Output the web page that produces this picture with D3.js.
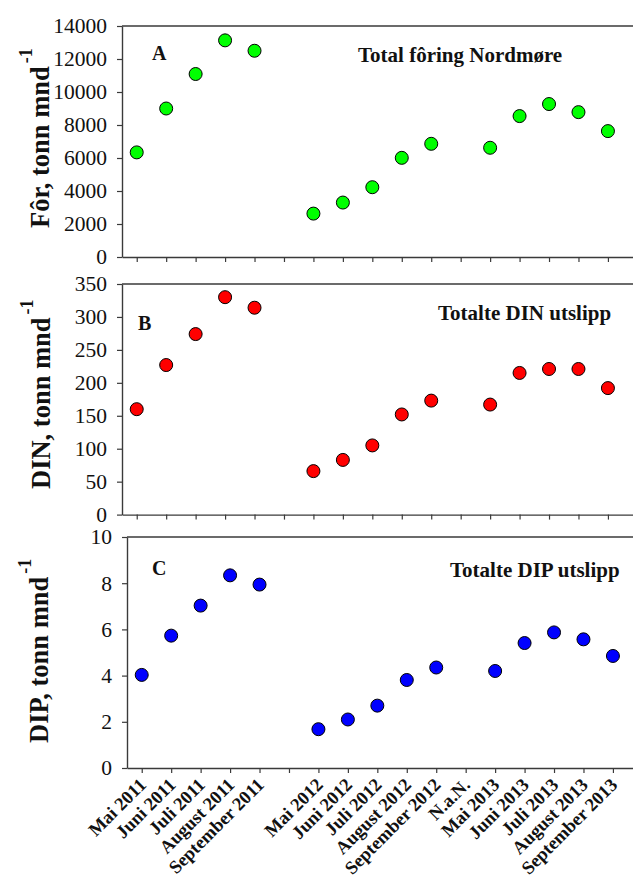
<!DOCTYPE html>
<html>
<head>
<meta charset="utf-8">
<script src="https://cdn.jsdelivr.net/npm/d3@7"></script>
<style>
  html, body { margin: 0; padding: 0; background: #fff; }
  svg { display: block; }
  svg text { font-family: "Liberation Serif", "Times New Roman", serif; }
</style>
</head>
<body>
<svg id="chart" width="633" height="877"></svg>
<script>
// ---------- data ----------
const xLabels = ["Mai 2011", "Juni 2011", "Juli 2011", "August 2011", "September 2011", "",
  "Mai 2012", "Juni 2012", "Juli 2012", "August 2012", "September 2012", "N.a.N.",
  "Mai 2013", "Juni 2013", "Juli 2013", "August 2013", "September 2013"];
const forValues = [6340, 9000, 11090, 13130, 12500, null, 2630, 3300, 4230, 6010, 6860, null, 6620, 8540, 9270, 8780, 7630];
const dinValues = [160, 227, 274, 330, 314, null, 66, 83, 105, 152, 173, null, 167, 215, 221, 221, 192];
const dipValues = [4.03, 5.73, 7.03, 8.34, 7.94, null, 1.68, 2.10, 2.70, 3.81, 4.35, null, 4.20, 5.41, 5.87, 5.57, 4.85];
const forTicks = [0, 2000, 4000, 6000, 8000, 10000, 12000, 14000];
const dinTicks = [0, 50, 100, 150, 200, 250, 300, 350];
const dipTicks = [0, 2, 4, 6, 8, 10];
const panelLetters = ["A", "B", "C"];
const panelTitles = ["Total fôring Nordmøre", "Totalte DIN utslipp", "Totalte DIP utslipp"];
const yTitles = ["Fôr, tonn mnd", "DIN, tonn mnd", "DIP, tonn mnd"];

// ---------- layout ----------
const svg = d3.select("#chart");
const serif = '"Liberation Serif", "Times New Roman", serif';
const step = 29.45;
const panels = [
  { values: forValues, ticks: forTicks, yMax: 14000, left: 122, top: 26, bottom: 257, color: "#00ff00",
    letterPos: [152, 60], titlePos: [358, 62], yTitlePos: [49, 228], showLabels: false },
  { values: dinValues, ticks: dinTicks, yMax: 350, left: 122, top: 284, bottom: 514.6, color: "#ff0000",
    letterPos: [138, 330], titlePos: [438, 320], yTitlePos: [50, 489], showLabels: false },
  { values: dipValues, ticks: dipTicks, yMax: 10, left: 127, top: 537, bottom: 768, color: "#0000ff",
    letterPos: [152, 575], titlePos: [450, 577], yTitlePos: [48, 743], showLabels: true }
];
const axisColor = "#3a3a3a";

panels.forEach((p, pi) => {
  const x = d3.scaleLinear().domain([-0.5, 17]).range([p.left, p.left + 17.5 * step]);
  const y = d3.scaleLinear().domain([0, p.yMax]).range([p.bottom, p.top]);
  const g = svg.append("g");

  // top frame line and right frame line
  g.append("line").attr("x1", p.left).attr("x2", x(17)).attr("y1", p.top).attr("y2", p.top)
    .attr("stroke", axisColor).attr("stroke-width", 1.4);
  g.append("line").attr("x1", x(17)).attr("x2", x(17)).attr("y1", p.top).attr("y2", p.bottom)
    .attr("stroke", axisColor).attr("stroke-width", 1.4);

  // y axis
  const ya = g.append("g").attr("transform", `translate(${p.left},0)`)
    .call(d3.axisLeft(y).tickValues(p.ticks).tickSize(5).tickSizeOuter(0).tickPadding(10).tickFormat(d3.format("d")))
    .attr("font-family", null).attr("font-size", null);
  ya.select(".domain").attr("stroke", axisColor).attr("stroke-width", 1.4);
  ya.selectAll(".tick line").attr("stroke", axisColor).attr("stroke-width", 1.2);
  ya.selectAll(".tick text").style("font-size", "21.5px").style("font-family", serif).attr("fill", "#111");

  // x axis
  const xa = g.append("g").attr("transform", `translate(0,${p.bottom})`)
    .call(d3.axisBottom(x).tickValues(d3.range(xLabels.length)).tickSize(5).tickSizeOuter(0)
      .tickFormat(i => p.showLabels ? xLabels[i] : ""))
    .attr("font-family", null).attr("font-size", null);
  xa.select(".domain").attr("stroke", axisColor).attr("stroke-width", 1.4);
  xa.selectAll(".tick line").attr("stroke", axisColor).attr("stroke-width", 1.2);
  xa.selectAll(".tick text")
    .style("font-size", "18.5px").style("font-weight", "bold").style("font-family", serif)
    .attr("fill", "#111")
    .attr("text-anchor", "end")
    .attr("y", 0).attr("dy", 0)
    .attr("transform", "translate(5,18) rotate(-45)");

  // points
  g.selectAll("circle.pt").data(p.values.map((v, i) => ({ v, i })).filter(d => d.v !== null))
    .join("circle").attr("class", "pt")
    .attr("cx", d => x(d.i)).attr("cy", d => y(d.v)).attr("r", 6.5)
    .attr("fill", p.color).attr("stroke", "#000").attr("stroke-width", 1);

  // panel letter
  g.append("text").attr("x", p.letterPos[0]).attr("y", p.letterPos[1])
    .style("font-size", "20px").style("font-weight", "bold").attr("fill", "#111").text(panelLetters[pi]);

  // title
  g.append("text").attr("x", p.titlePos[0]).attr("y", p.titlePos[1])
    .style("font-size", "21px").style("font-weight", "bold").attr("fill", "#111").text(panelTitles[pi]);

  // y title
  const yt = g.append("text")
    .attr("transform", `translate(${p.yTitlePos[0]},${p.yTitlePos[1]}) rotate(-90)`)
    .style("font-size", "26.5px").style("font-weight", "bold").attr("fill", "#111");
  yt.append("tspan").text(yTitles[pi]);
  yt.append("tspan").style("font-size", "18px").attr("dx", 3).attr("dy", -17).text("-1");
});
</script>
</body>
</html>
